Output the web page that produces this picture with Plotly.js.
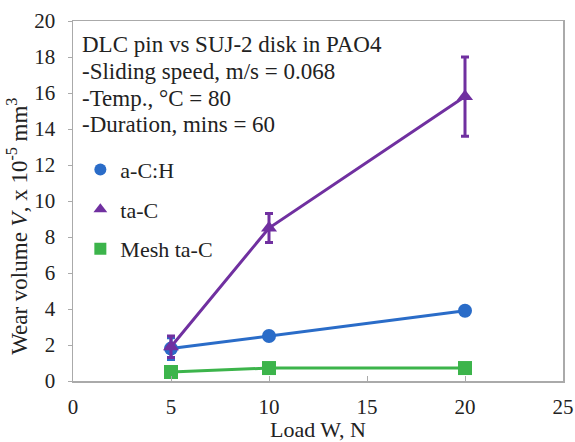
<!DOCTYPE html>
<html>
<head>
<meta charset="utf-8">
<script src="https://cdn.plot.ly/plotly-3.0.1.min.js"></script>
<style>
  html, body { margin: 0; padding: 0; background: #fff; }
  #chart { width: 575px; height: 442px; }
</style>
</head>
<body>
<div id="chart"></div>
<script>
// Load (N) and wear volume (x 10^-5 mm^3) for each coating
const loads = [5, 10, 20];
const seriesNames = ['a-C:H', 'ta-C', 'Mesh ta-C'];
const wearACH = [1.8, 2.5, 3.9];
const errACH = [0.6, 0.1, 0.1];
const wearTaC = [1.9, 8.5, 15.8];
const errTaC = [0.6, 0.8, 2.2];
const wearMesh = [0.5, 0.72, 0.72];
const errMesh = [0.05, 0.05, 0.05];
const xTicks = [0, 5, 10, 15, 20, 25];
const yTicks = [0, 2, 4, 6, 8, 10, 12, 14, 16, 18, 20];
const noteLines = [
  'DLC pin vs SUJ-2 disk in PAO4',
  '-Sliding speed, m/s = 0.068',
  '-Temp., °C = 80',
  '-Duration, mins = 60'
];
const yTitle = 'Wear volume <i>V</i>, x 10<sup>-5</sup> mm<sup>3</sup>';

const colors = ['#2a6cc8', '#7030a0', '#3cb44b'];
const symbols = ['circle', 'triangle-up', 'square'];
const wear = [wearACH, wearTaC, wearMesh];
const errs = [errACH, errTaC, errMesh];

const serif = 'Liberation Serif, Times New Roman, serif';
const ink = '#222';

const traces = [];
wear.forEach((vals, i) => {
  traces.push({
    x: loads, y: vals, type: 'scatter', mode: 'lines+markers',
    name: seriesNames[i], showlegend: false,
    line: { color: colors[i], width: 3 },
    marker: { color: colors[i], symbol: symbols[i], size: 14 },
    error_y: { type: 'data', array: errs[i], visible: true, color: colors[i], thickness: 3, width: 4 }
  });
});
// Legend entries show the marker only
wear.forEach((vals, i) => {
  traces.push({
    x: [null], y: [null], type: 'scatter', mode: 'markers',
    name: seriesNames[i], legendgroup: 'g' + i,
    marker: { color: colors[i], symbol: symbols[i], size: 12 }
  });
});

// Test-condition note, one annotation per line
const notes = noteLines.map((t, i) => ({
  xref: 'paper', yref: 'paper', x: 0.015, y: 1 - (24 + i * 26.5) / 360,
  xanchor: 'left', yanchor: 'middle', align: 'left', showarrow: false,
  font: { family: serif, size: 23, color: ink }, text: t
}));
// Vertical axis title, placed by hand
notes.push({
  xref: 'paper', yref: 'paper', x: -0.113, y: 0.43,
  xanchor: 'center', yanchor: 'middle', textangle: -90, showarrow: false,
  font: { family: serif, size: 23, color: ink }, text: yTitle
});

const layout = {
  width: 575, height: 442,
  margin: { l: 73, r: 12, t: 21, b: 61 },
  paper_bgcolor: '#fff', plot_bgcolor: '#fff',
  font: { family: serif, size: 21, color: ink },
  xaxis: {
    range: [0, 25], tickvals: xTicks, ticktext: xTicks.map(String),
    showgrid: false, zeroline: false,
    showline: true, linecolor: '#aaa', linewidth: 1.5, mirror: true,
    ticks: 'inside', ticklen: 5, tickcolor: '#aaa',
    ticklabelstandoff: 6,
    tickfont: { family: serif, size: 21, color: ink },
    title: { text: 'Load W, N', font: { family: serif, size: 22, color: ink }, standoff: 2 }
  },
  yaxis: {
    range: [0, 20], tickvals: yTicks, ticktext: yTicks.map(String),
    showgrid: false, zeroline: false,
    showline: true, linecolor: '#aaa', linewidth: 1.5, mirror: true,
    ticks: 'outside', ticklen: 4, tickcolor: '#aaa',
    ticklabelstandoff: 8,
    tickfont: { family: serif, size: 21, color: ink }
  },
  legend: {
    x: 0.015, y: 0.645, xanchor: 'left', yanchor: 'top',
    bgcolor: 'rgba(0,0,0,0)', borderwidth: 0,
    font: { family: serif, size: 22, color: ink },
    tracegroupgap: 8, itemwidth: 30
  },
  annotations: notes
};

Plotly.newPlot('chart', traces, layout, { staticPlot: true, displayModeBar: false });
</script>
</body>
</html>
